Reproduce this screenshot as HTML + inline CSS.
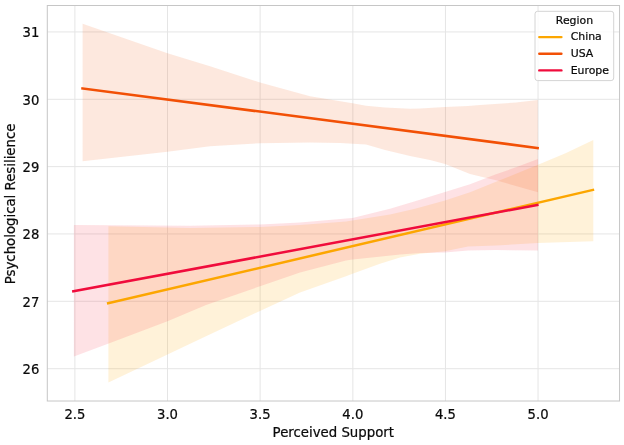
<!DOCTYPE html>
<html><head><meta charset="utf-8"><title>Perceived Support vs Psychological Resilience</title>
<style>
html,body{margin:0;padding:0;background:#fff;}
body{width:624px;height:445px;overflow:hidden;}
svg{display:block;}
text{font-family:"DejaVu Sans","Liberation Sans",sans-serif;fill:#0a0a0a;stroke:#0a0a0a;stroke-width:0.22px;}
.tick{font-size:13.2px;}
.lab{font-size:13.3px;}
.leg{font-size:10.9px;}
</style></head><body>
<svg width="624" height="445" viewBox="0 0 624 445">
<rect x="0" y="0" width="624" height="445" fill="#ffffff"/>
<g stroke="#e5e5e5" stroke-width="1" fill="none">
<line x1="74.9" y1="5.5" x2="74.9" y2="401.0"/>
<line x1="167.5" y1="5.5" x2="167.5" y2="401.0"/>
<line x1="260.1" y1="5.5" x2="260.1" y2="401.0"/>
<line x1="352.85" y1="5.5" x2="352.85" y2="401.0"/>
<line x1="445.45" y1="5.5" x2="445.45" y2="401.0"/>
<line x1="538.05" y1="5.5" x2="538.05" y2="401.0"/>
<line x1="47.3" y1="31.95" x2="619.55" y2="31.95"/>
<line x1="47.3" y1="99.3" x2="619.55" y2="99.3"/>
<line x1="47.3" y1="166.65" x2="619.55" y2="166.65"/>
<line x1="47.3" y1="233.95" x2="619.55" y2="233.95"/>
<line x1="47.3" y1="301.3" x2="619.55" y2="301.3"/>
<line x1="47.3" y1="368.7" x2="619.55" y2="368.7"/>
</g>
<polygon points="108.40,226.25 190.00,228.00 260.00,227.00 300.00,225.00 346.00,221.50 390.00,214.50 415.00,208.75 445.00,200.50 470.00,192.20 496.00,181.80 538.00,164.80 565.50,153.25 593.30,140.00 593.30,241.25 538.00,243.00 496.00,245.50 468.00,246.50 445.00,251.25 420.00,253.75 400.00,257.50 380.00,263.75 352.50,273.75 346.00,276.25 300.00,292.50 260.00,311.00 206.00,336.25 167.50,354.50 108.40,382.60" fill="#FFA800" fill-opacity="0.15"/>
<polygon points="82.60,23.75 167.50,53.25 210.00,66.25 260.00,82.50 310.00,96.25 352.50,103.25 366.00,105.75 385.00,107.50 410.00,108.75 420.00,108.50 445.00,107.00 468.00,106.00 480.00,105.00 516.00,102.50 537.80,100.00 538.00,192.30 496.00,180.20 470.00,173.90 445.00,164.00 430.00,160.00 410.00,156.00 385.00,150.00 366.00,144.50 340.00,143.00 310.00,142.50 260.00,143.25 210.00,146.25 167.50,151.75 82.60,161.25" fill="#F26420" fill-opacity="0.15"/>
<polygon points="73.90,225.00 190.00,225.75 260.00,224.50 300.00,222.50 346.00,218.50 352.50,218.00 390.00,208.75 415.00,201.25 445.00,192.00 470.00,184.30 496.00,174.30 516.00,167.30 538.00,158.90 538.00,250.50 496.00,250.00 468.00,250.50 445.00,252.50 420.00,253.00 400.00,254.50 352.50,259.50 346.00,260.50 300.00,272.50 260.00,286.25 206.00,305.00 167.50,321.25 108.00,343.75 73.90,356.40" fill="#F53A50" fill-opacity="0.15"/>
<line x1="108.15" y1="303.3" x2="592.95" y2="189.9" stroke="#FCA600" stroke-width="2.5" stroke-linecap="square"/>
<line x1="82.5" y1="88.4" x2="537.65" y2="148.0" stroke="#F25006" stroke-width="2.5" stroke-linecap="square"/>
<line x1="73.35" y1="291.35" x2="537.35" y2="205.0" stroke="#F00C3C" stroke-width="2.5" stroke-linecap="square"/>
<rect x="47.3" y="5.5" width="572.25" height="395.5" fill="none" stroke="#c6c6c6" stroke-width="1.0"/>
<text class="tick" x="74.9" y="419.2" text-anchor="middle">2.5</text>
<text class="tick" x="167.5" y="419.2" text-anchor="middle">3.0</text>
<text class="tick" x="260.1" y="419.2" text-anchor="middle">3.5</text>
<text class="tick" x="352.85" y="419.2" text-anchor="middle">4.0</text>
<text class="tick" x="445.45" y="419.2" text-anchor="middle">4.5</text>
<text class="tick" x="538.05" y="419.2" text-anchor="middle">5.0</text>
<text class="tick" x="39.3" y="37.1" text-anchor="end">31</text>
<text class="tick" x="39.3" y="104.5" text-anchor="end">30</text>
<text class="tick" x="39.3" y="171.8" text-anchor="end">29</text>
<text class="tick" x="39.3" y="239.1" text-anchor="end">28</text>
<text class="tick" x="39.3" y="306.5" text-anchor="end">27</text>
<text class="tick" x="39.3" y="373.9" text-anchor="end">26</text>
<text class="lab" x="333.3" y="437.0" text-anchor="middle">Perceived Support</text>
<text class="lab" transform="translate(14.6,203.9) rotate(-90)" text-anchor="middle">Psychological Resilience</text>
<rect x="535.0" y="11.3" width="78.7" height="69.3" rx="2.6" ry="2.6" fill="#ffffff" fill-opacity="0.8" stroke="#d4d4d4" stroke-width="1"/>
<text class="leg" x="574.5" y="24.3" text-anchor="middle">Region</text>
<line x1="539.3" y1="37.1" x2="561.4" y2="37.1" stroke="#FCA600" stroke-width="2.4" stroke-linecap="round"/>
<text class="leg" x="570.7" y="40.3">China</text>
<line x1="539.3" y1="53.8" x2="561.4" y2="53.8" stroke="#F25006" stroke-width="2.4" stroke-linecap="round"/>
<text class="leg" x="570.7" y="57.0">USA</text>
<line x1="539.3" y1="70.4" x2="561.4" y2="70.4" stroke="#F00C3C" stroke-width="2.4" stroke-linecap="round"/>
<text class="leg" x="570.7" y="73.6">Europe</text>
</svg></body></html>
